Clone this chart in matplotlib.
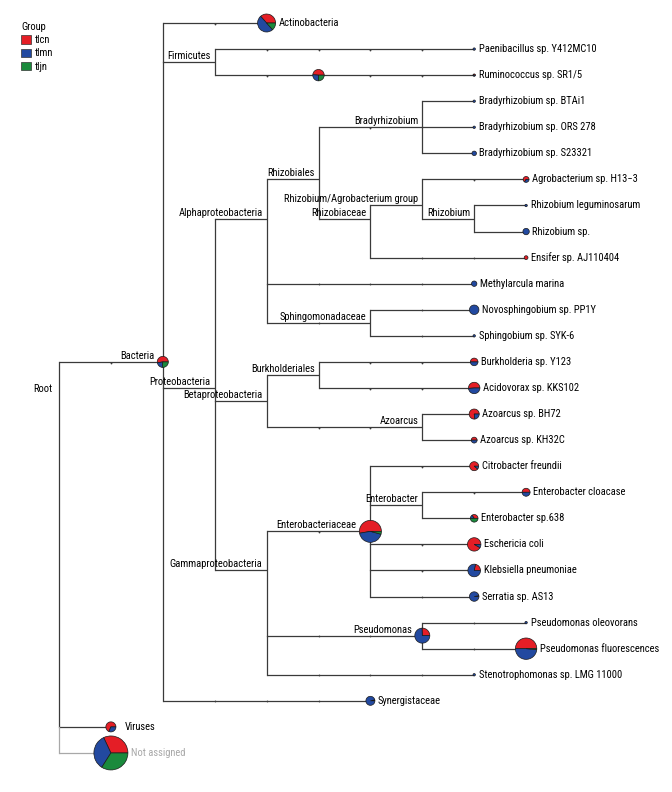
import numpy as np
import matplotlib
matplotlib.use('Agg')
import matplotlib.pyplot as plt
from matplotlib import font_manager as fm
from matplotlib.patches import Wedge, Patch

# taxonomy tree, listed depth first; leaves come out in drawing order
names = ['Root', 'Bacteria', 'Actinobacteria', 'Firmicutes', 'Paenibacillus sp. Y412MC10',
         'Ruminococcaceae', 'Ruminococcus sp. SR1/5', 'Proteobacteria', 'Alphaproteobacteria',
         'Rhizobiales', 'Bradyrhizobium', 'Bradyrhizobium sp. BTAi1', 'Bradyrhizobium sp. ORS 278',
         'Bradyrhizobium sp. S23321', 'Rhizobiaceae', 'Rhizobium/Agrobacterium group',
         'Agrobacterium sp. H13\u22123', 'Rhizobium', 'Rhizobium leguminosarum', 'Rhizobium sp.',
         'Ensifer sp. AJ110404', 'Methylarcula marina', 'Sphingomonadaceae',
         'Novosphingobium sp. PP1Y', 'Sphingobium sp. SYK-6', 'Betaproteobacteria',
         'Burkholderiales', 'Burkholderia sp. Y123', 'Acidovorax sp. KKS102', 'Azoarcus',
         'Azoarcus sp. BH72', 'Azoarcus sp. KH32C', 'Gammaproteobacteria', 'Enterobacteriaceae',
         'Citrobacter freundii', 'Enterobacter', 'Enterobacter cloacase', 'Enterobacter sp.638',
         'Eschericia coli', 'Klebsiella pneumoniae', 'Serratia sp. AS13', 'Pseudomonas',
         'Pseudomonas oleovorans', 'Pseudomonas fluorescences', 'Stenotrophomonas sp. LMG 11000',
         'Synergistaceae', 'Viruses', 'Not assigned']
parents = [None, 'Root', 'Bacteria', 'Bacteria', 'Firmicutes',
           'Firmicutes', 'Ruminococcaceae', 'Bacteria', 'Proteobacteria',
           'Alphaproteobacteria', 'Rhizobiales', 'Bradyrhizobium', 'Bradyrhizobium',
           'Bradyrhizobium', 'Rhizobiales', 'Rhizobiaceae',
           'Rhizobium/Agrobacterium group', 'Rhizobium/Agrobacterium group', 'Rhizobium', 'Rhizobium',
           'Rhizobiaceae', 'Alphaproteobacteria', 'Alphaproteobacteria',
           'Sphingomonadaceae', 'Sphingomonadaceae', 'Proteobacteria',
           'Betaproteobacteria', 'Burkholderiales', 'Burkholderiales', 'Betaproteobacteria',
           'Azoarcus', 'Azoarcus', 'Proteobacteria', 'Gammaproteobacteria',
           'Enterobacteriaceae', 'Enterobacteriaceae', 'Enterobacter', 'Enterobacter',
           'Enterobacteriaceae', 'Enterobacteriaceae', 'Enterobacteriaceae', 'Gammaproteobacteria',
           'Pseudomonas', 'Pseudomonas', 'Gammaproteobacteria',
           'Bacteria', 'Root', 'Root']
# depth of each node in the full NCBI taxonomy
tax_depth = [0, 2, 4, 3, 8,
             5, 8, 3, 4,
             5, 7, 8, 8,
             8, 6, 7,
             9, 8, 9, 9,
             9, 8, 6,
             8, 8, 4,
             5, 8, 8, 7,
             8, 8, 4, 6,
             8, 7, 9, 8,
             8, 8, 8, 7,
             9, 9, 8,
             6, 1, 1]
unlabeled = ['Ruminococcaceae']

groups = ['tlcn', 'tlmn', 'tljn']
tlcn = [0, 22, 41, 0, 0,
        22, 1, 0, 0,
        0, 0, 0, 0,
        0, 0, 0,
        8, 0, 0, 0,
        5, 0, 0,
        0, 0, 0,
        0, 10, 23, 0,
        27, 6, 0, 88,
        25, 0, 11, 7,
        57, 12, 1, 20,
        0, 79, 0,
        1, 24, 128]
tlmn = [0, 9, 56, 0, 2,
        12, 1, 0, 0,
        0, 0, 2, 2,
        7, 0, 0,
        4, 0, 2, 14,
        0, 10, 0,
        31, 2, 0,
        0, 10, 22, 0,
        8, 6, 0, 72,
        3, 0, 11, 3,
        5, 43, 30, 58,
        2, 77, 2,
        27, 11, 136]
tljn = [0, 11, 15, 0, 0,
        11, 0, 0, 0,
        0, 0, 0, 0,
        0, 0, 0,
        0, 0, 0, 0,
        0, 0, 0,
        0, 0, 0,
        0, 0, 0, 0,
        0, 0, 0, 7,
        0, 0, 0, 10,
        0, 0, 0, 0,
        0, 2, 0,
        0, 0, 136]

colors = ['#e41e26', '#2249a0', '#1a8a3c']
line_col = '#3a3a3a'
grey_col = '#a8a8a8'
X0, DX = 59, 51.9
Y0, DY = 23, 26.07

# look for a narrow face, the original uses a condensed font
fonts = [(f.name, str(f.stretch)) for f in fm.fontManager.ttflist]
font_kw = {'family': 'DejaVu Sans'}
fs = 7.6
if any(nm == 'Liberation Sans Narrow' for nm, st in fonts):
    font_kw = {'family': 'Liberation Sans Narrow'}
elif any(nm == 'Roboto Condensed' for nm, st in fonts):
    font_kw = {'family': 'Roboto Condensed'}
    fs = 7.6
elif any(nm == 'DejaVu Sans' and 'condensed' in st for nm, st in fonts):
    font_kw = {'family': 'DejaVu Sans', 'stretch': 'condensed'}
    fs = 7.0
else:
    fs = 6.3

fig = plt.figure(figsize=(6.72, 7.92), dpi=100)
ax = fig.add_axes([0, 0, 1, 1])
ax.set_xlim(0, 672)
ax.set_ylim(792, 0)
ax.axis('off')

idx = {nm: i for i, nm in enumerate(names)}
children = {nm: [] for nm in names}
for nm, p in zip(names, parents):
    if p is not None:
        children[p].append(nm)

# leaf rows in listing order, inner nodes at the mean row of their leaves
leaf_rows = {}
for nm in names:
    if not children[nm]:
        leaf_rows[nm] = len(leaf_rows)


def leaves_of(nm):
    if not children[nm]:
        return [leaf_rows[nm]]
    out = []
    for c in children[nm]:
        out += leaves_of(c)
    return out


xs = np.array([X0 + DX * d for d in tax_depth])
ys = np.array([Y0 + DY * np.mean(leaves_of(nm)) for nm in names])
counts = np.array([tlcn, tlmn, tljn], dtype=float).T
totals = counts.sum(axis=1)
radii = 0.85 * np.sqrt(totals)


def col_of(nm):
    return grey_col if nm == 'Not assigned' else line_col


# edges
for i, nm in enumerate(names):
    p = parents[i]
    if p is None:
        continue
    j = idx[p]
    c = col_of(nm)
    ax.plot([xs[j], xs[i]], [ys[i], ys[i]], color=c, lw=0.9, zorder=1, solid_capstyle='butt')
    for d in range(tax_depth[j] + 1, tax_depth[i]):
        ax.plot(X0 + DX * d, ys[i] + 0.6, marker='o', ms=1.3, mew=0, color=c, zorder=1)
for nm in names:
    ch = children[nm]
    if not ch:
        continue
    i = idx[nm]
    for a, b in zip(ch[:-1], ch[1:]):
        ax.plot([xs[i], xs[i]], [ys[idx[a]], ys[idx[b]]], color=col_of(b), lw=0.9, zorder=1)

# pies (y axis is flipped, so angles are mirrored)
for i, nm in enumerate(names):
    if totals[i] <= 0:
        continue
    start = 0.0
    for k in range(3):
        if counts[i, k] <= 0:
            continue
        span = 360.0 * counts[i, k] / totals[i]
        ax.add_patch(Wedge((xs[i], ys[i]), radii[i], -(start + span), -start,
                           facecolor=colors[k], edgecolor='#1a1a1a', lw=0.5, zorder=3))
        start += span

# labels
for i, nm in enumerate(names):
    if nm in unlabeled:
        continue
    r = radii[i]
    if parents[i] is None:
        ax.text(xs[i] - 7, ys[i] + 1, nm, ha='right', va='center', fontsize=fs, zorder=4, **font_kw)
    elif children[nm]:
        ax.text(xs[i] - max(r, 1) - 3, ys[i] - 6, nm, ha='right', va='center',
                fontsize=fs, zorder=4, **font_kw)
    else:
        gap = 9 if nm == 'Viruses' else 3
        ax.text(xs[i] + max(r, 2) + gap, ys[i], nm, ha='left', va='center', fontsize=fs,
                color=grey_col if nm == 'Not assigned' else 'black', zorder=4, **font_kw)

handles = [Patch(facecolor=colors[k], edgecolor='#333333', lw=0.5, label=g)
           for k, g in enumerate(groups)]
leg = ax.legend(handles=handles, title='Group', loc='upper left',
                bbox_to_anchor=(21 / 672, 1 - 22 / 792), frameon=False,
                prop=fm.FontProperties(size=fs, **font_kw), alignment='left', borderpad=0,
                borderaxespad=0, handlelength=0.95, handleheight=0.8, handletextpad=0.35,
                labelspacing=0.3)
leg.get_title().set_fontproperties(fm.FontProperties(size=fs, **font_kw))

fig.savefig('out.png', dpi=100)
